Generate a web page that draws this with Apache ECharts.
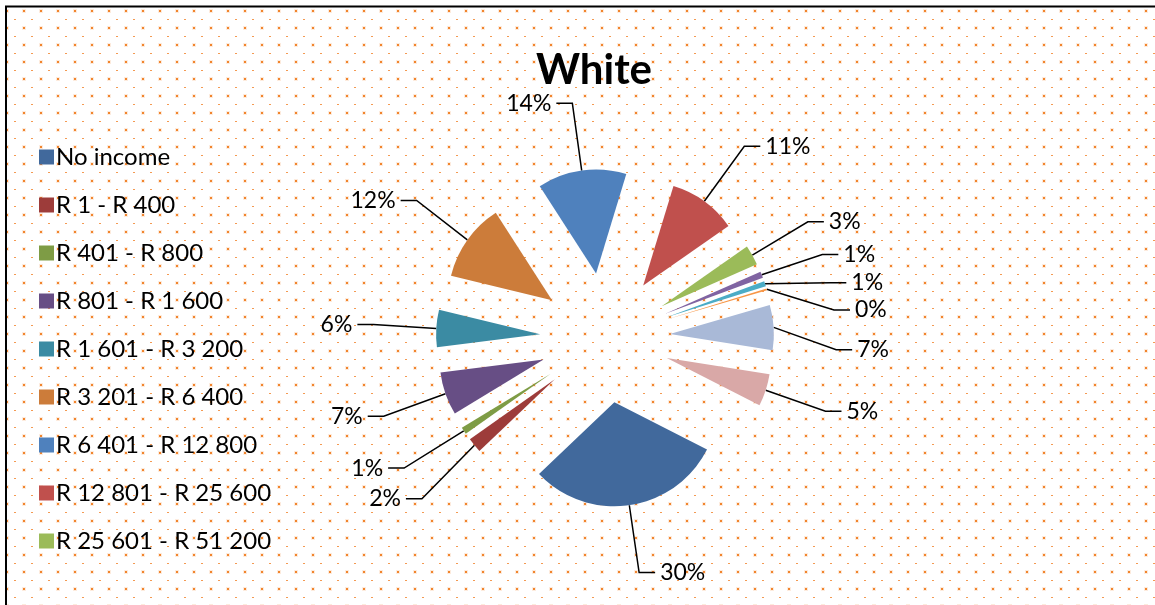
<!DOCTYPE html>
<html>
<head>
<meta charset="utf-8">
<script src="https://cdn.jsdelivr.net/npm/echarts@6/dist/echarts.min.js"></script>
<style>
html,body{margin:0;padding:0;background:#fff;}
#chart{width:1155px;height:605px;}
</style>
</head>
<body>
<div id="chart"></div>
<script>
// ---- data ----
const categories = [
  'No income', 'R 1 - R 400', 'R 401 - R 800', 'R 801 - R 1 600',
  'R 1 601 - R 3 200', 'R 3 201 - R 6 400', 'R 6 401 - R 12 800',
  'R 12 801 - R 25 600', 'R 25 601 - R 51 200', 'R 51 201 - R 102 400',
  'R 102 401 - R 204 800', 'R 204 801 or more', 'Unspecified', 'Not applicable'
];
const shares = [30.4, 2.3, 1.1, 6.7, 5.8, 12.1, 13.8, 10.6, 3.1, 1.0, 0.8, 0.3, 7.0, 5.0];
const colors = [
  '#41699c', '#9d3c3a', '#7e9c45', '#674e85', '#3b8ba3', '#cc7c3a', '#4f81bd',
  '#c0504d', '#9bbb59', '#8064a2', '#4bacc6', '#f79646', '#a9b9d7', '#d9a8a7'
];
const legendNames = categories.slice(0, 9);
const titleText = 'White';

// ---- dotted background pattern ----
const tile = document.createElement('canvas');
tile.width = 17; tile.height = 17;
const tc = tile.getContext('2d');
tc.fillStyle = 'rgba(240,120,24,0.15)';
tc.fillRect(5, 9, 4, 4);
tc.fillStyle = 'rgba(239,122,26,0.9)';
tc.fillRect(6, 10, 2, 2);
tc.fillStyle = 'rgba(240,120,24,0.75)';
tc.fillRect(14, 2, 2, 1);

const chart = echarts.init(document.getElementById('chart'), null, {renderer: 'canvas'});
const fontFam = 'Lato, "Open Sans", sans-serif';

chart.setOption({
  animation: false,
  backgroundColor: '#ffffff',
  color: colors,
  graphic: [
    {type: 'rect', z: -10, silent: true,
     shape: {x: 5, y: 6, width: 1160, height: 610},
     style: {fill: {image: tile, repeat: 'repeat'}}},
    {type: 'polyline', z: -5, silent: true,
     shape: {points: [[6, 605], [6, 6.5], [1155, 6.5]]},
     style: {stroke: '#000', lineWidth: 2, fill: null}}
  ],
  title: {
    text: titleText,
    left: 589, top: 44, textAlign: 'center',
    textStyle: {fontFamily: fontFam, fontWeight: 'bold', fontSize: 42, color: '#000'}
  },
  legend: {
    data: legendNames,
    orient: 'vertical',
    left: 34, top: 140,
    itemWidth: 15, itemHeight: 15,
    itemGap: 24,
    icon: 'rect',
    selectedMode: false,
    textStyle: {fontFamily: fontFam, fontSize: 24, color: '#000', lineHeight: 24, padding: [0, 0, 0, -3]}
  },
  series: [{
    type: 'pie',
    center: [605, 338],
    radius: [0, 104],
    startAngle: 333,
    clockwise: true,
    selectedMode: 'multiple',
    selectedOffset: 65,
    percentPrecision: 0,
    emphasis: {scale: false},
    itemStyle: {borderWidth: 0},
    label: {
      show: true, position: 'outside',
      formatter: '{d}%',
      fontFamily: fontFam, fontSize: 23, color: '#000'
    },
    labelLine: {show: true, length: 68, length2: 16, lineStyle: {color: '#000', width: 1.5}},
    data: categories.map((c, i) => ({name: c, value: shares[i], selected: true}))
  }]
});
</script>
</body>
</html>
